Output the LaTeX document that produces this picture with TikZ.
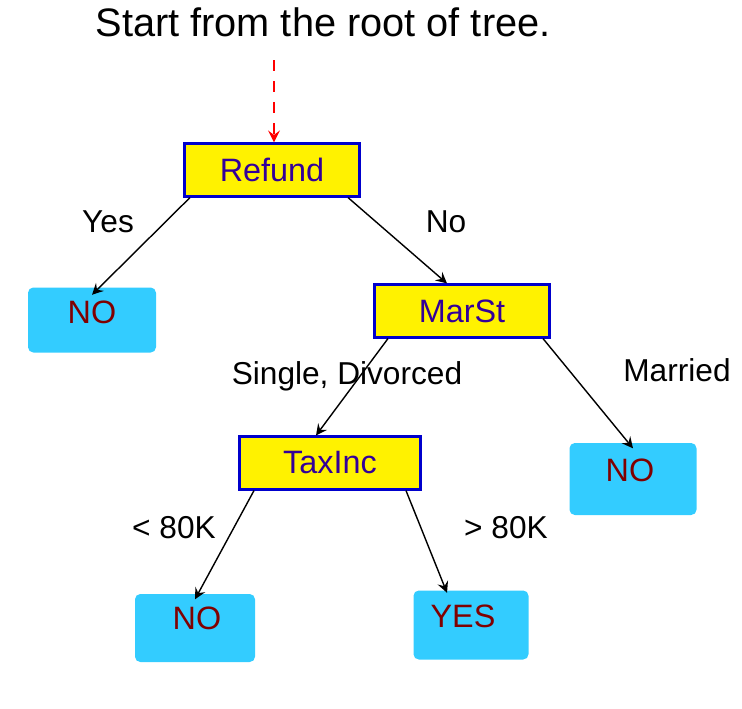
\documentclass[tikz,border=0pt]{standalone}
\usepackage{fontspec}
\setmainfont{Liberation Sans}
\begin{document}
\begin{tikzpicture}[x=0.01cm,y=-0.01cm,
 dec/.style={draw=blue!80!black,fill=yellow,line width=0.6pt,inner sep=0pt,text={rgb,255:red,51;green,0;blue,153},font=\fontsize{9.2}{10}\selectfont},
 leaf/.style={fill={rgb,255:red,51;green,204;blue,255},rounded corners=1.5pt,inner sep=0pt,text={rgb,255:red,128;green,0;blue,0},font=\fontsize{9.2}{10}\selectfont},
 lt/.style={inner sep=0pt,text={rgb,255:red,128;green,0;blue,0},font=\fontsize{9.2}{10}\selectfont},
 lab/.style={font=\fontsize{9}{10}\selectfont},
 e/.style={-stealth,line width=0.4pt}]
\useasboundingbox (0,0) rectangle (742,709);
\node[font=\fontsize{11.3}{13}\selectfont] (title) at (323,22) {Start from the root of tree.};
\node[dec,minimum width=175*0.01cm,minimum height=53*0.01cm] (refund) at (272,170) {Refund};
\node[leaf,minimum width=128*0.01cm,minimum height=65*0.01cm] (no1) at (92,320) {};
\node[lt] at (92,312) {NO};
\node[dec,minimum width=175*0.01cm,minimum height=53*0.01cm] (marst) at (462,311) {MarSt};
\node[leaf,minimum width=127*0.01cm,minimum height=72*0.01cm] (no2) at (633,479) {};
\node[lt] at (630,470) {NO};
\node[dec,minimum width=181*0.01cm,minimum height=53*0.01cm] (taxinc) at (330,463) {TaxInc};
\node[leaf,minimum width=120*0.01cm,minimum height=68*0.01cm] (no3) at (195,628) {};
\node[lt] at (197,618) {NO};
\node[leaf,minimum width=115*0.01cm,minimum height=69*0.01cm] (yes) at (471,625) {};
\node[lt] at (463,616) {YES};
\coordinate (top) at (274,60);
\draw[-stealth,red,dashed,line width=0.5pt] (top) -- (refund.north -| top);
\draw[e] ([xshift=-82*0.01cm]refund.south) -- ([yshift=-8*0.01cm]no1.north);
\draw[e] ([xshift=76*0.01cm]refund.south) -- ([xshift=-15*0.01cm]marst.north);
\draw[e] ([xshift=-74*0.01cm]marst.south) -- ([xshift=-14*0.01cm]taxinc.north);
\draw[e] ([xshift=81*0.01cm]marst.south) -- ([yshift=-6*0.01cm]no2.north);
\draw[e] ([xshift=-76*0.01cm]taxinc.south) -- ([yshift=-6*0.01cm]no3.north);
\draw[e] ([xshift=76*0.01cm]taxinc.south) -- ([xshift=-24*0.01cm,yshift=-3*0.01cm]yes.north);
\node[lab] (l1) at (108,222) {Yes};
\node[lab] (l2) at (446,222) {No};
\node[lab] (l3) at (347,376) {Single, Divorced};
\node[lab] (l4) at (677,370) {Married};
\node[lab] (l5) at (174,528) {< 80K};
\node[lab] (l6) at (506,528) {> 80K};
\end{tikzpicture}
\end{document}
